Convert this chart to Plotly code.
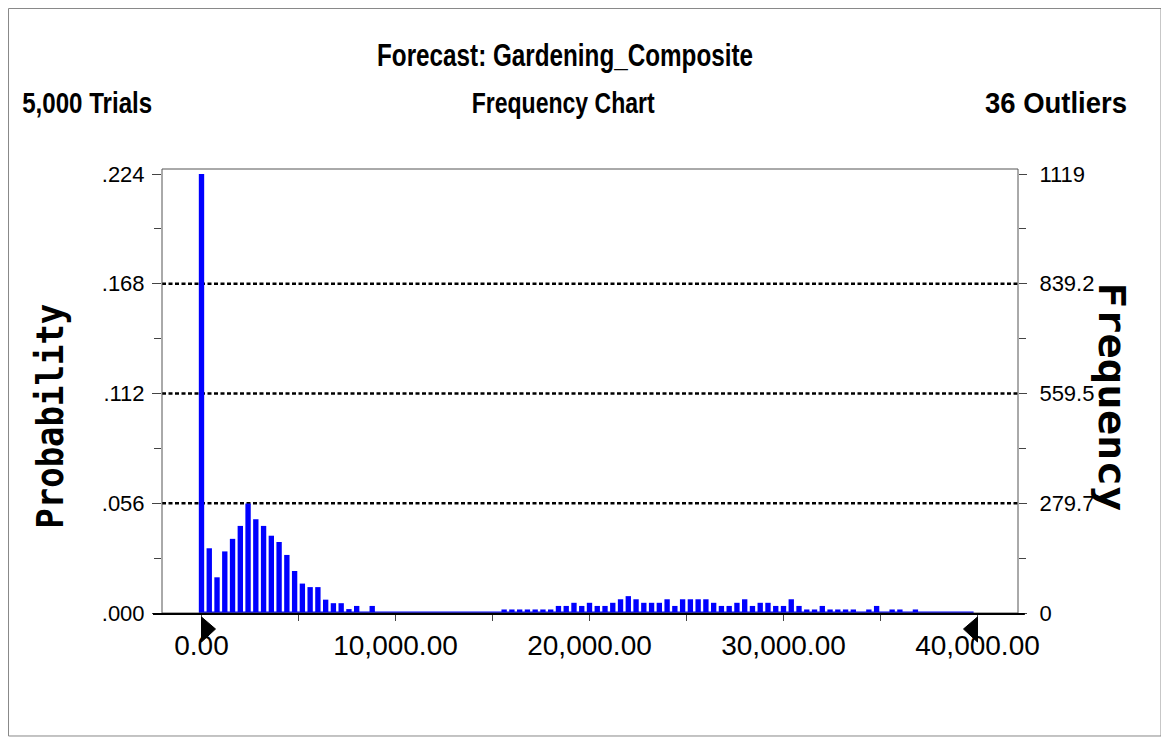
import plotly.graph_objects as go

# ---------------- data ----------------
bin_width = 400
n_bins = 100
bin_starts = [i * bin_width for i in range(n_bins)]

frequency = [
    1119, 165, 91, 157, 189, 222, 279, 239, 222, 197,
    181, 148, 107, 75, 66, 66, 34, 25, 25, 10,
    18, 0, 18, 0, 0, 0, 0, 0, 0, 0,
    0, 0, 0, 0, 0, 0, 0, 0, 0, 9,
    9, 9, 9, 9, 9, 9, 18, 18, 26, 18,
    26, 18, 18, 26, 35, 43, 35, 26, 26, 26,
    35, 18, 35, 35, 35, 35, 26, 18, 18, 26,
    35, 18, 26, 26, 18, 18, 35, 18, 9, 9,
    18, 9, 9, 9, 9, 0, 9, 18, 0, 9,
    9, 0, 9, 0, 0, 0, 0, 0, 0, 0,
]

freq_max = 1119
prob_tick_labels = [".000", ".056", ".112", ".168", ".224"]
freq_tick_labels = ["0", "279.7", "559.5", "839.2", "1119"]
x_tick_values = [0, 10000, 20000, 30000, 40000]
x_tick_labels = ["0.00", "10,000.00", "20,000.00", "30,000.00", "40,000.00"]
x_minor_values = [5000, 15000, 25000, 35000]
range_min, range_max = 0, 40000

title_text = "Forecast: Gardening_Composite"
left_text = "5,000 Trials"
center_text = "Frequency Chart"
right_text = "36 Outliers"
y_title_left = "Probability"
y_title_right = "Frequency"

# ---------------- derived ----------------
y_tick_pos = [freq_max * k / 4 for k in range(5)]
y_minor_pos = [freq_max * (2 * k + 1) / 8 for k in range(4)]
y_top = freq_max * 1.0114
x_lo, x_hi = -2036, 42088

BAR_BLUE = "#0000ff"
sans = "Liberation Sans, Arial"
ytickfont = dict(family=sans, size=22, color="#000")
xtickfont = dict(family=sans, size=28, color="#000")

fig = go.Figure()

# blue base strip of the histogram
fig.add_trace(go.Scatter(
    x=[range_min, range_max - bin_width / 2], y=[0, 0], mode="lines",
    line=dict(color=BAR_BLUE, width=3), hoverinfo="skip", showlegend=False,
))

fig.add_trace(go.Bar(
    x=bin_starts, y=frequency, width=bin_width * 0.69,
    marker=dict(color=BAR_BLUE, line=dict(width=0)),
    showlegend=False,
))

# right axis carrier (invisible)
fig.add_trace(go.Scatter(
    x=[bin_starts[0]], y=[0], yaxis="y2", mode="markers",
    marker=dict(opacity=0), hoverinfo="skip", showlegend=False,
))

fig.update_layout(
    width=1161, height=736,
    margin=dict(l=154, r=151, t=161, b=131, pad=0),
    paper_bgcolor="white", plot_bgcolor="white",
    xaxis=dict(
        range=[x_lo, x_hi], tickmode="array", tickvals=x_tick_values,
        ticktext=x_tick_labels, ticks="outside", ticklen=7, tickwidth=1,
        tickcolor="#444", showgrid=False, zeroline=False, showline=False,
        tickfont=xtickfont, ticklabelstandoff=0,
        minor=dict(tickmode="array", tickvals=x_minor_values, ticks="outside",
                   ticklen=7, tickwidth=1, tickcolor="#444", showgrid=False),
    ),
    yaxis=dict(
        range=[0, y_top], tickmode="array", tickvals=y_tick_pos,
        ticktext=prob_tick_labels, ticks="outside", ticklen=9, tickwidth=1,
        tickcolor="#444", showgrid=False, zeroline=False, showline=False,
        tickfont=ytickfont, ticklabelstandoff=3,
        minor=dict(tickmode="array", tickvals=y_minor_pos, ticks="outside",
                   ticklen=7, tickwidth=1, tickcolor="#444", showgrid=False),
    ),
    yaxis2=dict(
        range=[0, y_top], overlaying="y", side="right", tickmode="array",
        tickvals=y_tick_pos, ticktext=freq_tick_labels, ticks="outside",
        ticklen=8, tickwidth=1, tickcolor="#444", showgrid=False,
        zeroline=False, showline=False, tickfont=ytickfont,
        ticklabelstandoff=8,
        minor=dict(tickmode="array", tickvals=y_minor_pos, ticks="outside",
                   ticklen=7, tickwidth=1, tickcolor="#444", showgrid=False),
    ),
)

shapes = []
# dashed grid lines at interior major ticks
for yv in y_tick_pos[1:-1]:
    shapes.append(dict(type="line", xref="paper", x0=0, x1=1, yref="y",
                       y0=yv, y1=yv, layer="below",
                       line=dict(color="#000", width=2.5, dash="4px,2.5px")))
# plot frame
shapes.append(dict(type="rect", xref="paper", yref="paper", x0=0, x1=1,
                   y0=0, y1=1, line=dict(color="#555", width=1)))
# bottom axis line (extended)
shapes.append(dict(type="line", xref="paper", x0=-0.0105, x1=1.008,
                   yref="paper", ysizemode="pixel", yanchor=0, y0=-1, y1=-1,
                   line=dict(color="#000", width=2)))
# outer border
shapes.append(dict(type="rect", xref="paper", yref="paper",
                   x0=-0.1793, x1=1.1671, y0=-0.277, y1=1.3615,
                   line=dict(color="#888", width=1)))
# range grabbers
shapes.append(dict(type="path", xref="x", yref="paper", xsizemode="pixel",
                   ysizemode="pixel", xanchor=range_min, yanchor=0,
                   path="M 0 -4 L 14 -16 L 0 -29 Z",
                   fillcolor="#000", line=dict(color="#000", width=1)))
shapes.append(dict(type="path", xref="x", yref="paper", xsizemode="pixel",
                   ysizemode="pixel", xanchor=range_max, yanchor=0,
                   path="M 0 -4 L -14 -16 L 0 -29 Z",
                   fillcolor="#000", line=dict(color="#000", width=1)))
fig.update_layout(shapes=shapes)

def bold(size, family=sans):
    return dict(family=family, size=size, color="#000", weight="bold")

ann = [
    dict(text=title_text, x=0.4708, y=1.2568, font=bold(32)),
    dict(text=left_text, x=-0.0876, y=1.1486, font=bold(29)),
    dict(text=center_text, x=0.4685, y=1.1486, font=bold(29)),
    dict(text=right_text, x=1.0444, y=1.1486, font=bold(29)),
    dict(text=y_title_left, x=-0.1308, y=0.4437, textangle=-90,
         font=bold(38, "DejaVu Sans Mono")),
    dict(text=y_title_right, x=1.1098, y=0.4865, textangle=90,
         font=bold(38, "DejaVu Sans Mono")),
]
for a in ann:
    a.update(xref="paper", yref="paper", xanchor="center", yanchor="middle",
             showarrow=False)
fig.update_layout(annotations=ann)

# squeeze/stretch the header texts to the widths they have in the original
text_widths = {
    title_text: 376, left_text: 130, center_text: 183, right_text: 142,
    y_title_left: 225, y_title_right: 229,
}
js_pairs = ",".join('"%s": %d' % (k, v) for k, v in text_widths.items())
post = """
var gd = document.getElementById('{plot_id}');
var w = {%s};
gd.querySelectorAll('g.annotation text').forEach(function(t) {
  var v = w[t.textContent];
  if (v) { t.setAttribute('textLength', v); t.setAttribute('lengthAdjust', 'spacingAndGlyphs'); }
});
""" % js_pairs

fig.write_html("out.html", post_script=post)
